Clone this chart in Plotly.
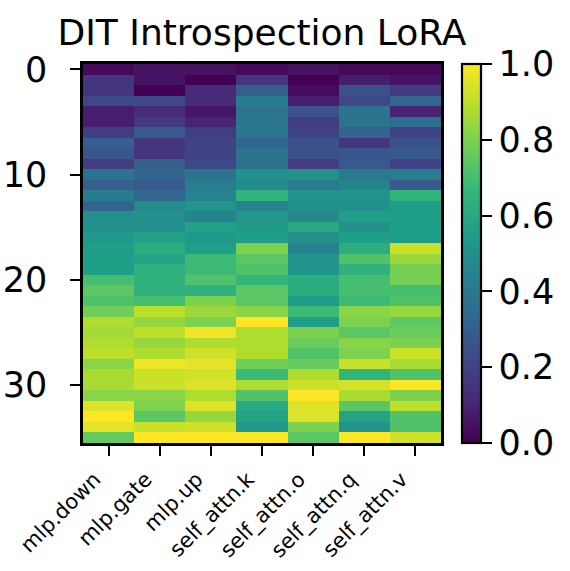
import plotly.graph_objects as go

modules = ["mlp.down", "mlp.gate", "mlp.up", "self_attn.k", "self_attn.o", "self_attn.q", "self_attn.v"]
layers = list(range(36))

# values per layer (row) for each module (column)
values = [
    [0.02, 0.05, 0.05, 0.02, 0.05, 0.02, 0.02],
    [0.15, 0.05, 0.00, 0.15, 0.00, 0.08, 0.05],
    [0.15, 0.00, 0.12, 0.30, 0.03, 0.25, 0.17],
    [0.22, 0.22, 0.12, 0.42, 0.08, 0.22, 0.33],
    [0.08, 0.12, 0.06, 0.38, 0.25, 0.38, 0.10],
    [0.08, 0.17, 0.10, 0.40, 0.18, 0.38, 0.36],
    [0.18, 0.28, 0.18, 0.40, 0.20, 0.32, 0.20],
    [0.30, 0.16, 0.20, 0.33, 0.25, 0.15, 0.25],
    [0.27, 0.16, 0.20, 0.38, 0.25, 0.27, 0.28],
    [0.18, 0.30, 0.22, 0.38, 0.18, 0.28, 0.20],
    [0.38, 0.32, 0.38, 0.50, 0.50, 0.40, 0.42],
    [0.30, 0.28, 0.42, 0.48, 0.42, 0.45, 0.28],
    [0.42, 0.33, 0.45, 0.65, 0.52, 0.52, 0.65],
    [0.32, 0.48, 0.52, 0.45, 0.50, 0.50, 0.56],
    [0.50, 0.50, 0.45, 0.53, 0.47, 0.56, 0.56],
    [0.50, 0.50, 0.57, 0.53, 0.60, 0.50, 0.56],
    [0.53, 0.57, 0.53, 0.56, 0.50, 0.56, 0.55],
    [0.56, 0.62, 0.56, 0.80, 0.45, 0.62, 0.92],
    [0.56, 0.58, 0.68, 0.74, 0.52, 0.72, 0.85],
    [0.56, 0.64, 0.68, 0.72, 0.52, 0.64, 0.79],
    [0.70, 0.64, 0.72, 0.66, 0.62, 0.70, 0.79],
    [0.74, 0.64, 0.64, 0.74, 0.62, 0.70, 0.70],
    [0.72, 0.70, 0.80, 0.74, 0.55, 0.68, 0.72],
    [0.78, 0.90, 0.85, 0.82, 0.68, 0.82, 0.84],
    [0.88, 0.84, 0.80, 1.00, 0.56, 0.80, 0.75],
    [0.86, 0.90, 0.98, 0.88, 0.80, 0.74, 0.77],
    [0.88, 0.84, 0.88, 0.88, 0.77, 0.82, 0.80],
    [0.90, 0.88, 0.93, 0.88, 0.72, 0.80, 0.92],
    [0.82, 0.98, 0.96, 0.78, 0.76, 0.92, 0.87],
    [0.87, 0.92, 0.93, 0.68, 0.88, 0.65, 0.72],
    [0.87, 0.92, 0.95, 0.88, 0.92, 0.94, 1.00],
    [0.82, 0.82, 0.88, 0.72, 1.00, 0.87, 0.80],
    [0.95, 0.80, 0.95, 0.60, 0.95, 0.74, 0.90],
    [1.00, 0.74, 0.84, 0.58, 0.95, 0.58, 0.72],
    [0.96, 0.92, 0.93, 0.54, 0.80, 0.52, 0.72],
    [0.76, 1.00, 1.00, 1.00, 0.74, 1.00, 0.93],
]

y_ticks = [0, 10, 20, 30]
cbar_ticks = [0.0, 0.2, 0.4, 0.6, 0.8, 1.0]

font = "DejaVu Sans"

fig = go.Figure(go.Heatmap(
    z=values,
    x=modules,
    y=layers,
    zmin=0, zmax=1,
    colorscale="Viridis",
    colorbar=dict(
        x=(462 - 83) / 358, xanchor="left", xref="paper",
        y=0, yanchor="bottom", len=1, lenmode="fraction",
        thickness=19, thicknessmode="pixels",
        outlinecolor="black", outlinewidth=2.2,
        tickvals=cbar_ticks, tickformat=".1f", tickprefix="\u00a0",
        ticks="outside", ticklen=10, tickwidth=2.2, tickcolor="black",
        tickfont=dict(family=font, size=35, color="black"),
        xpad=0, ypad=0,
    ),
))

fig.update_layout(
    width=570, height=571,
    margin=dict(l=83, r=129, t=64, b=128),
    paper_bgcolor="white", plot_bgcolor="white",
    title=dict(text="DIT Introspection LoRA", x=0.5, xref="paper", xanchor="center",
               y=1 - 32 / 571, yref="container", yanchor="middle",
               font=dict(family=font, size=36, color="black")),
    xaxis=dict(
        type="category", range=[-0.5, len(modules) - 0.5],
        tickangle=-45, ticks="outside", ticklen=10, tickwidth=2.2, tickcolor="black",
        ticklabelstandoff=3, ticklabelshift=-14,
        tickfont=dict(family=font, size=21, color="black"),
        showline=True, linecolor="black", linewidth=2.5, mirror=True,
        showgrid=False, zeroline=False, automargin=False,
    ),
    yaxis=dict(
        range=[35.5, -0.5], tickvals=y_ticks,
        ticks="outside", ticklen=10, tickwidth=2.2, tickcolor="black",
        ticklabelstandoff=16,
        tickfont=dict(family=font, size=35, color="black"),
        showline=True, linecolor="black", linewidth=2.5, mirror=True,
        showgrid=False, zeroline=False, automargin=False,
    ),
)

fig.write_html("out.html", config={"displayModeBar": False},
               post_script="document.body.style.margin='0px';")
